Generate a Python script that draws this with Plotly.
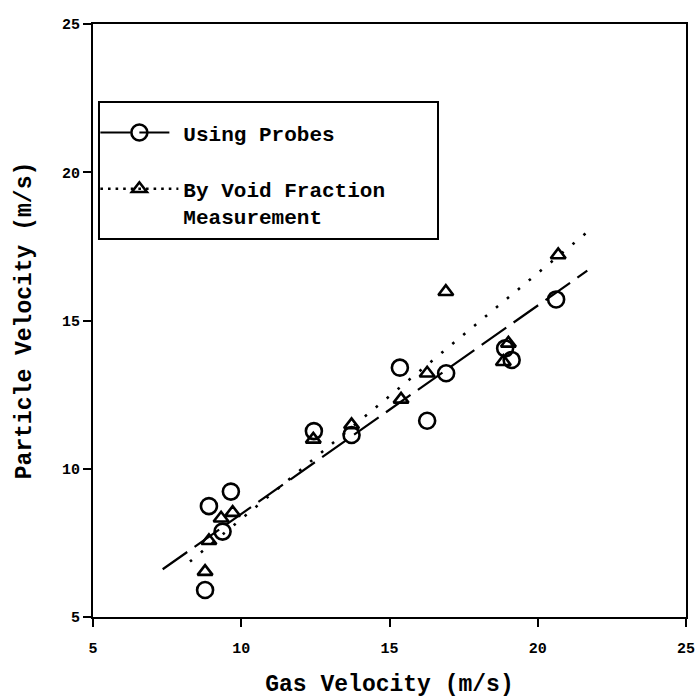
import plotly.graph_objects as go

# Measured particle velocity vs gas velocity (m/s)
probe_x = [8.78, 8.91, 9.37, 9.65, 12.45, 13.72, 15.35, 16.27, 16.91, 18.90, 19.12, 20.62]
probe_y = [5.91, 8.74, 7.88, 9.23, 11.27, 11.14, 13.41, 11.62, 13.22, 14.06, 13.67, 15.71]

void_x = [8.78, 8.91, 9.32, 9.71, 12.43, 13.72, 15.39, 16.27, 16.90, 18.84, 19.01, 20.69]
void_y = [6.53, 7.57, 8.33, 8.52, 10.99, 11.48, 12.34, 13.22, 15.97, 13.61, 14.23, 17.21]

# Straight-line fits, given by their end points
probe_fit_x = [7.35, 21.67]
probe_fit_y = [6.61, 16.68]
void_fit_x = [8.27, 21.62]
void_fit_y = [6.87, 17.94]

tick_vals = [5, 10, 15, 20, 25]
tick_text = ["5", "10", "15", "20", "25"]

FONT = "Liberation Mono, Courier New, monospace"
INK = "black"

fig = go.Figure()

# fitted lines
fig.add_trace(go.Scatter(x=probe_fit_x, y=probe_fit_y, mode="lines",
                         line=dict(color=INK, width=2.2, dash="30px,9px"),
                         showlegend=False, hoverinfo="skip"))
fig.add_trace(go.Scatter(x=void_fit_x, y=void_fit_y, mode="lines",
                         line=dict(color=INK, width=2.6, dash="2.6px,11.6px"),
                         showlegend=False, hoverinfo="skip"))

# data points
fig.add_trace(go.Scatter(x=probe_x, y=probe_y, mode="markers",
                         marker=dict(symbol="circle-open", size=16, color=INK,
                                     line=dict(width=2.6, color=INK)),
                         showlegend=False))
fig.add_trace(go.Scatter(x=void_x, y=void_y, mode="markers",
                         marker=dict(symbol="triangle-up-open", size=13, color=INK,
                                     line=dict(width=2.6, color=INK)),
                         showlegend=False))

# legend entries
fig.add_trace(go.Scatter(x=[None], y=[None], mode="lines+markers", name="Using Probes",
                         legendgroup="a",
                         line=dict(color=INK, width=2.2, dash="30px,9px"),
                         marker=dict(symbol="circle-open", size=16, color=INK,
                                     line=dict(width=2.6, color=INK))))
fig.add_trace(go.Scatter(x=[None], y=[None], mode="lines+markers",
                         name="By Void Fraction<br>Measurement",
                         legendgroup="b",
                         line=dict(color=INK, width=2.6, dash="2.6px,5px"),
                         marker=dict(symbol="triangle-up-open", size=13, color=INK,
                                     line=dict(width=2.6, color=INK))))

axis_common = dict(
    showline=True, linecolor=INK, linewidth=2, mirror=True,
    ticks="outside", ticklen=8, tickwidth=2, tickcolor=INK,
    showgrid=False, zeroline=False, automargin=False,
    tickvals=tick_vals, ticktext=tick_text,
    tickfont=dict(family=FONT, size=15, color=INK, weight="bold"),
)

fig.update_layout(
    width=698, height=698,
    margin=dict(l=93, r=12, t=24, b=81),
    paper_bgcolor="white", plot_bgcolor="white",
    xaxis=dict(range=[5, 25], **axis_common,
               ticklabelstandoff=8,
               title=dict(text="Gas Velocity (m/s)", standoff=24,
                          font=dict(family=FONT, size=23, color=INK, weight="bold"))),
    yaxis=dict(range=[5, 25], **axis_common,
               title=dict(text="Particle Velocity (m/s)", standoff=24,
                          font=dict(family=FONT, size=23, color=INK, weight="bold"))),
    legend=dict(x=0.004, y=0.851, xanchor="left", yanchor="top",
                bgcolor="rgba(0,0,0,0)", borderwidth=0,
                itemwidth=78, valign="top", tracegroupgap=26,
                font=dict(family=FONT, size=21, color=INK, weight="bold")),
    # frame around the legend
    shapes=[dict(type="rect", xref="paper", yref="paper",
                 x0=0.0101, x1=0.5818, y0=0.6374, y1=0.8685,
                 line=dict(color=INK, width=2), fillcolor="rgba(0,0,0,0)",
                 layer="above")],
)

fig.write_html("out.html")
